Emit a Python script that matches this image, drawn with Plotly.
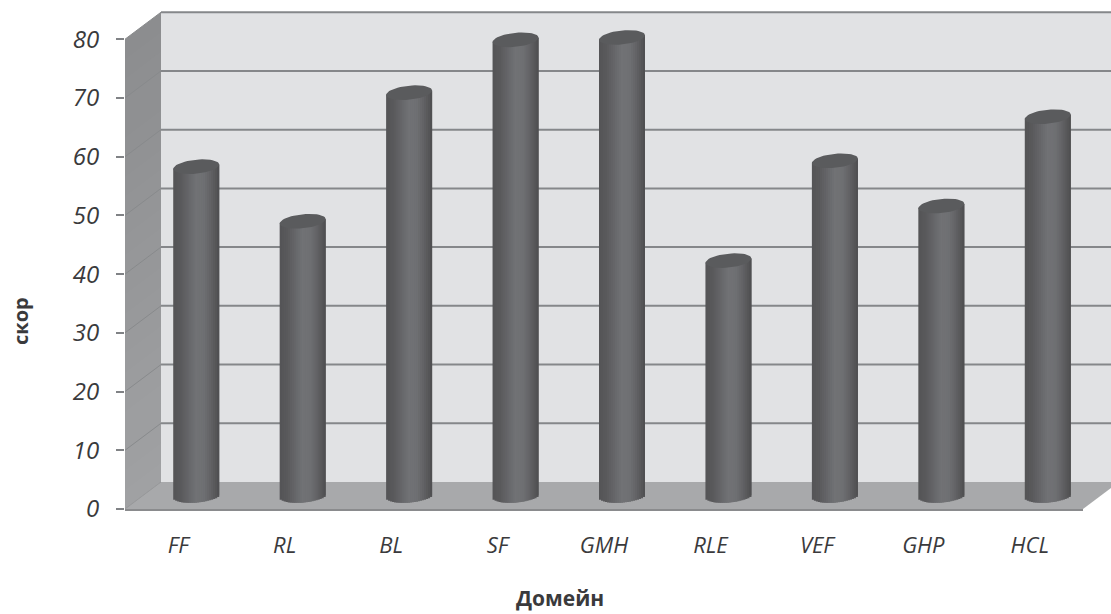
import math
import plotly.graph_objects as go

# Domain scores
categories = ["FF", "RL", "BL", "SF", "GMH", "RLE", "VEF", "GHP", "HCL"]
scores = [56.0, 46.7, 68.6, 77.6, 78.0, 40.0, 57.0, 49.3, 64.5]
y_ticks = [0, 10, 20, 30, 40, 50, 60, 70, 80]

W, H = 1111, 614
PX_PER_UNIT = 5.87
BOX_TOP = 80
X_RANGE = (-0.5, 8.5)
Y_RANGE = (0, 86)  # headroom above the box so the tallest cylinder tops are not cut
M_L, M_R, M_B = 125, 28, 105
M_T = H - M_B - (Y_RANGE[1] - Y_RANGE[0]) * PX_PER_UNIT
plot_w = W - M_L - M_R
plot_h = H - M_T - M_B
px_per_x = plot_w / (X_RANGE[1] - X_RANGE[0])
px_per_y = PX_PER_UNIT

# Oblique depth of the box, in pixels
DEPTH_X, DEPTH_Y = 36, 27
# Cylinder geometry, in pixels
CYL_W, CYL_RY, CYL_TILT = 46, 7.0, 2.2
N_STRIPS = 23

GRID = "#85878a"
TEXT = "#3a3a3c"
CAP = "#5a5b5d"


def box_x(value, depth=0):
    """Paper x of an x-axis value pushed back by a depth fraction."""
    return (value - X_RANGE[0]) / (X_RANGE[1] - X_RANGE[0]) + depth * DEPTH_X / plot_w


def box_y(value, depth=0):
    """Paper y of a y-axis value pushed back by a depth fraction."""
    return (value - Y_RANGE[0]) / (Y_RANGE[1] - Y_RANGE[0]) + depth * DEPTH_Y / plot_h


def polygon(points, fill):
    path = "M" + " L".join(f"{x:.5f},{y:.5f}" for x, y in points) + " Z"
    return dict(type="path", path=path, xref="paper", yref="paper",
                fillcolor=fill, line=dict(width=0), layer="below")


def segment(p0, p1, color, width):
    return dict(type="line", xref="paper", yref="paper", x0=p0[0], y0=p0[1],
                x1=p1[0], y1=p1[1], line=dict(color=color, width=width), layer="below")


def lerp_hex(stops, t):
    t = max(0.0, min(1.0, t)) * (len(stops) - 1)
    i = min(int(t), len(stops) - 2)
    f = t - i
    a, b = stops[i], stops[i + 1]
    return "#" + "".join(f"{round(a[k] + (b[k] - a[k]) * f):02x}" for k in range(3))


shapes = []
x_lo, x_hi = X_RANGE
y_lo, y_hi = Y_RANGE[0], BOX_TOP

# Back wall
shapes.append(polygon([(box_x(x_lo, 1), box_y(y_lo, 1)), (box_x(x_hi, 1), box_y(y_lo, 1)),
                       (box_x(x_hi, 1), box_y(y_hi, 1)), (box_x(x_lo, 1), box_y(y_hi, 1))], "#e1e2e4"))

# Side wall, shaded from top to bottom with overlapping bands
N_BANDS = 24
for b in range(N_BANDS):
    top = y_hi - (y_hi - y_lo) * b / N_BANDS
    shade = lerp_hex([(140, 141, 143), (160, 161, 163)], b / (N_BANDS - 1))
    shapes.append(polygon([(box_x(x_lo, 0), box_y(y_lo, 0)), (box_x(x_lo, 1), box_y(y_lo, 1)),
                           (box_x(x_lo, 1), box_y(top, 1)), (box_x(x_lo, 0), box_y(top, 0))], shade))

# Floor
shapes.append(polygon([(box_x(x_lo, 0), box_y(y_lo, 0)), (box_x(x_hi, 0), box_y(y_lo, 0)),
                       (box_x(x_hi, 1), box_y(y_lo, 1)), (box_x(x_lo, 1), box_y(y_lo, 1))], "#a8a9ab"))

# Gridlines across the back wall and along the side wall
for tick in y_ticks:
    if tick > 0:
        shapes.append(segment((box_x(x_lo, 1), box_y(tick, 1)), (box_x(x_hi, 1), box_y(tick, 1)), GRID, 2))
        shapes.append(segment((box_x(x_lo, 0), box_y(tick, 0)), (box_x(x_lo, 1), box_y(tick, 1)), "#888a8c", 1))
shapes.append(segment((box_x(x_lo, 0), box_y(y_lo, 0)), (box_x(x_lo, 1), box_y(y_lo, 1)), "#97989a", 1))

fig = go.Figure()

# Cylinder bodies: narrow overlaid bars whose shade gives the rounded look.
# Each strip is twice as wide as its step, so the next one paints over any seam.
center_x = [i + 0.5 * DEPTH_X / px_per_x for i in range(len(categories))]
floor_level = 0.5 * DEPTH_Y / px_per_y
strip_w = CYL_W / N_STRIPS / px_per_x
shade_stops = [(84, 84, 86), (90, 90, 92), (102, 102, 105), (113, 114, 117),
               (111, 112, 115), (96, 96, 99), (78, 78, 80)]

for s in range(N_STRIPS):
    t = (s + 0.5) / N_STRIPS * 2 - 1
    foot = (-CYL_RY * math.sqrt(1 - t * t) + CYL_TILT * t) / px_per_y
    head = (CYL_TILT * t) / px_per_y
    base = [floor_level + foot] * len(scores)
    height = [v + head - foot for v in scores]
    fig.add_trace(go.Bar(
        x=center_x, y=height, base=base,
        width=strip_w * (2 if s < N_STRIPS - 1 else 1),
        offset=(s - N_STRIPS / 2) * strip_w,
        marker=dict(color=lerp_hex(shade_stops, (t + 1) / 2), line=dict(width=0)),
        showlegend=False, hoverinfo="skip",
    ))

# Cylinder tops
cap_x, cap_y = [], []
for cx, v in zip(center_x, scores):
    for k in range(49):
        a = 2 * math.pi * k / 48
        cap_x.append(cx + 0.5 * CYL_W * math.cos(a) / px_per_x)
        cap_y.append(floor_level + v + (CYL_RY * math.sin(a) + CYL_TILT * math.cos(a)) / px_per_y)
    cap_x.append(None)
    cap_y.append(None)
fig.add_trace(go.Scatter(x=cap_x, y=cap_y, mode="lines", fill="toself", fillcolor=CAP,
                         line=dict(width=0, color=CAP),
                         showlegend=False, hoverinfo="skip"))

fig.update_layout(
    width=W, height=H,
    margin=dict(l=M_L, r=M_R, t=M_T, b=M_B),
    paper_bgcolor="white", plot_bgcolor="rgba(0,0,0,0)",
    barmode="overlay", shapes=shapes,
    font=dict(family="Open Sans", color=TEXT),
    annotations=[
        dict(text="<b>Домейн</b>", xref="paper", yref="paper", x=(560 - M_L) / plot_w,
             y=-(598 - (H - M_B)) / plot_h, showarrow=False, xanchor="center", yanchor="middle",
             font=dict(size=21, color=TEXT)),
        dict(text="<b>скор</b>", xref="paper", yref="paper", x=(21 - M_L) / plot_w,
             y=(H - M_B - 321) / plot_h, showarrow=False, textangle=-90,
             xanchor="center", yanchor="middle",
             font=dict(size=20, color=TEXT)),
    ],
)
fig.update_xaxes(
    range=list(X_RANGE), tickmode="array", tickvals=list(range(len(categories))), ticktext=categories,
    ticks="", showgrid=False, zeroline=False, showline=True, linecolor="#8a8b8d", linewidth=2,
    ticklabelstandoff=16, tickfont=dict(family="Open Sans", size=22, color=TEXT, style="italic"),
)
fig.update_yaxes(
    range=list(Y_RANGE), tickmode="array", tickvals=y_ticks,
    ticks="outside", ticklen=8, tickwidth=2, tickcolor="#808285",
    showgrid=False, zeroline=False, showline=False, ticklabelstandoff=12,
    tickfont=dict(family="Open Sans", size=24, color=TEXT, style="italic"),
)

fig.write_html("out.html", config=dict(displayModeBar=False))
